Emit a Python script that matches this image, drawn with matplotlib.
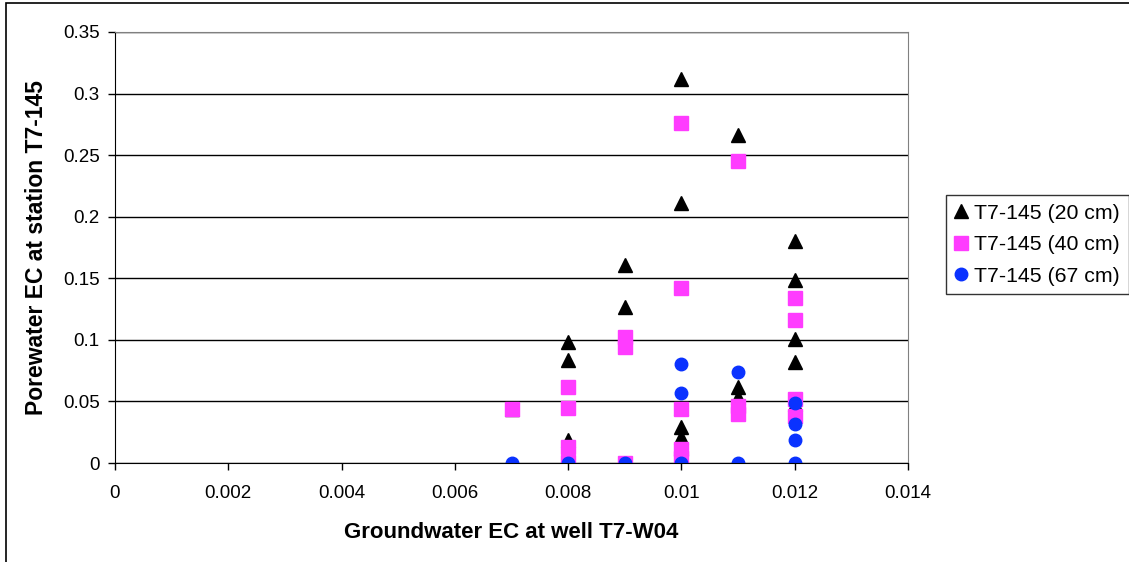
import matplotlib.pyplot as plt

plt.rcParams['font.family'] = ['Liberation Sans', 'DejaVu Sans']

# T7-145 (20 cm)
x20 = [0.007, 0.008, 0.008, 0.008, 0.008, 0.009, 0.009,
       0.010, 0.010, 0.010, 0.010, 0.010, 0.010,
       0.011, 0.011, 0.011,
       0.012, 0.012, 0.012, 0.012, 0.012]
y20 = [0.044, 0.098, 0.084, 0.019, 0.0, 0.161, 0.127,
       0.312, 0.211, 0.045, 0.029, 0.021, 0.012,
       0.266, 0.062, 0.054,
       0.180, 0.149, 0.101, 0.082, 0.048]

# T7-145 (40 cm)
x40 = [0.007, 0.008, 0.008, 0.008, 0.008, 0.009, 0.009, 0.009,
       0.010, 0.010, 0.010, 0.010, 0.010,
       0.011, 0.011, 0.011,
       0.012, 0.012, 0.012, 0.012]
y40 = [0.044, 0.062, 0.045, 0.013, 0.001, 0.102, 0.094, 0.0,
       0.276, 0.142, 0.044, 0.011, 0.004,
       0.245, 0.046, 0.040,
       0.134, 0.116, 0.052, 0.038]

# T7-145 (67 cm)
x67 = [0.007, 0.008, 0.009, 0.010, 0.010, 0.010,
       0.011, 0.011, 0.012, 0.012, 0.012, 0.012]
y67 = [0.0, 0.0, 0.0, 0.080, 0.057, 0.0,
       0.074, 0.0, 0.049, 0.032, 0.019, 0.0]

fig = plt.figure(figsize=(11.29, 5.62), dpi=100)
ax = fig.add_axes([115/1129, 1-463/562, (908-115)/1129, (463-32)/562])

ax.plot(x20, y20, '^', color='black', markersize=10.5, linestyle='none', label='T7-145 (20 cm)')
ax.plot(x40, y40, 's', color='#FF3CFF', markersize=9.5, linestyle='none', label='T7-145 (40 cm)')
ax.plot(x67, y67, 'o', color='#0A32FF', markersize=9, linestyle='none', label='T7-145 (67 cm)')

ax.set_xlim(0, 0.014)
ax.set_ylim(0, 0.35)
ax.set_xticks([0, 0.002, 0.004, 0.006, 0.008, 0.01, 0.012, 0.014])
ax.set_xticklabels(['0', '0.002', '0.004', '0.006', '0.008', '0.01', '0.012', '0.014'])
ax.set_yticks([0, 0.05, 0.1, 0.15, 0.2, 0.25, 0.3, 0.35])
ax.set_yticklabels(['0', '0.05', '0.1', '0.15', '0.2', '0.25', '0.3', '0.35'])
ax.tick_params(labelsize=13.5, direction='out', length=5, width=1, colors='black')
ax.tick_params(axis='x', pad=11)
ax.tick_params(axis='y', pad=6)
ax.yaxis.grid(True, color='black', linewidth=1)
ax.set_axisbelow(True)
for s in ['top', 'right']:
    ax.spines[s].set_color('#808080')
for s in ['left', 'bottom']:
    ax.spines[s].set_color('black')

ax.set_xlabel('Groundwater EC at well T7-W04', fontsize=16, fontweight='bold', labelpad=14)
ax.set_ylabel('Porewater EC at station T7-145', fontsize=16.5, fontweight='bold', labelpad=11)

leg = fig.legend(loc='upper left', bbox_to_anchor=(946/1129, 1-195/562), fontsize=15.3,
                 frameon=True, fancybox=False, edgecolor='black', handlelength=0.6,
                 handletextpad=0.3, borderpad=0.42, labelspacing=0.58, borderaxespad=0)
leg.get_frame().set_linewidth(1)

# outer chart frame
fig.add_artist(plt.Rectangle((6/1129, -0.01), 1.1, 1 - 2.5/562 + 0.01, transform=fig.transFigure,
                             fill=False, edgecolor='black', linewidth=1.2))

fig.savefig('out.png', dpi=100)
